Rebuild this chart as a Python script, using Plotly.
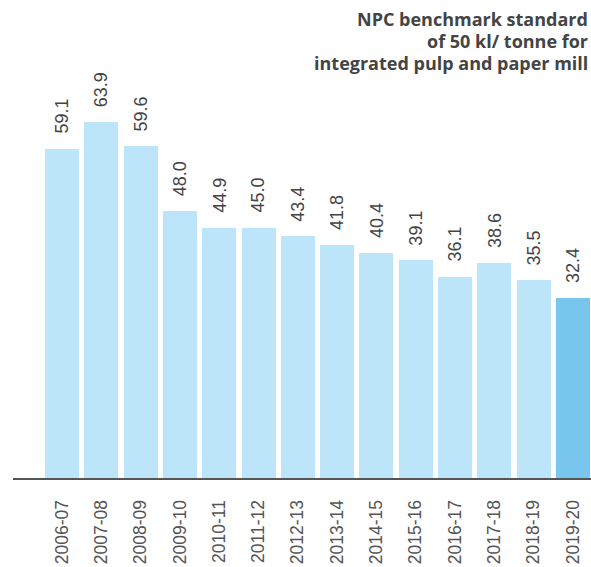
import plotly.graph_objects as go

years = ["2006-07", "2007-08", "2008-09", "2009-10", "2010-11", "2011-12", "2012-13",
         "2013-14", "2014-15", "2015-16", "2016-17", "2017-18", "2018-19", "2019-20"]
values = [59.1, 63.9, 59.6, 48.0, 44.9, 45.0, 43.4, 41.8, 40.4, 39.1, 36.1, 38.6, 35.5, 32.4]
labels = ["59.1", "63.9", "59.6", "48.0", "44.9", "45.0", "43.4", "41.8", "40.4", "39.1",
          "36.1", "38.6", "35.5", "32.4"]
title_lines = ["NPC benchmark standard", "of 50 kl/ tonne for", "integrated pulp and paper mill"]

light = "#bde5f9"
dark = "#78c5ee"
colors = [light] * (len(years) - 1) + [dark]

fig = go.Figure()
fig.add_trace(go.Bar(x=years, y=values, marker=dict(color=colors, line=dict(width=0)),
                     width=0.865, hoverinfo="skip"))

for yr, v, lab in zip(years, values, labels):
    fig.add_annotation(x=yr, y=v, text=lab, showarrow=False, textangle=-90,
                       xanchor="center", yanchor="bottom", yshift=13,
                       font=dict(family="Liberation Sans", size=18, color="#444444"))

for i, line in enumerate(title_lines):
    fig.add_annotation(x=1, xref="paper", xshift=-1, y=1, yref="paper", yshift=1 - 22 * i,
                       text=line, showarrow=False, xanchor="right", yanchor="middle",
                       font=dict(family="Open Sans", size=18, color="#444444", weight=700))

fig.update_layout(
    width=591, height=567,
    margin=dict(l=13, r=0, t=20, b=89),
    paper_bgcolor="white", plot_bgcolor="white",
    showlegend=False,
    bargap=0,
    xaxis=dict(type="category", range=[-1.247, 13.46], showline=True, linecolor="#555555",
               linewidth=2, tickangle=-90, ticks="outside", ticklen=13,
               tickcolor="rgba(0,0,0,0)", showgrid=False,
               tickfont=dict(family="Liberation Sans", size=17.5, color="#555555")),
    yaxis=dict(range=[0, 82.3], visible=False, showgrid=False, zeroline=False),
)

fig.write_html("out.html", config={"displayModeBar": False},
               post_script="document.body.style.margin='0px';"
                           "document.documentElement.style.overflow='hidden';")
